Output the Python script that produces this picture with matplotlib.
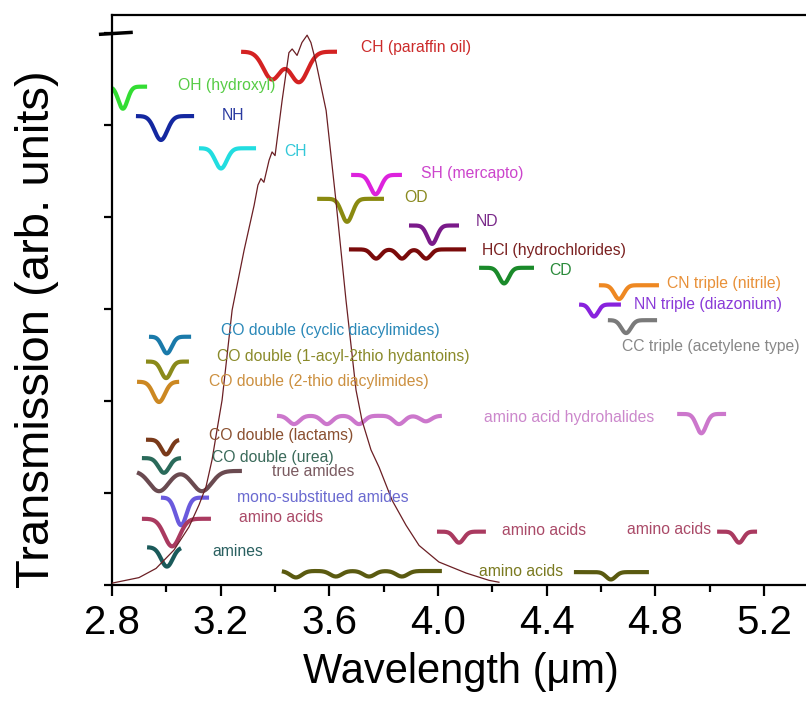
import numpy as np
import matplotlib
matplotlib.use("Agg")
import matplotlib.pyplot as plt

plt.rcParams['font.family'] = ['Liberation Sans', 'DejaVu Sans']

# ---- transmission trace ----
spec_wl = [2.800, 2.899, 2.962, 3.028, 3.083, 3.120, 3.146, 3.168, 3.186, 3.205,
           3.242, 3.286, 3.323, 3.337, 3.348, 3.359, 3.378, 3.389, 3.400, 3.426,
           3.451, 3.463, 3.481, 3.499, 3.518, 3.532, 3.551, 3.588, 3.624, 3.661,
           3.698, 3.720, 3.753, 3.783, 3.831, 3.882, 3.930, 4.003, 4.103, 4.188, 4.224]
spec_tr = [0.02, 0.08, 0.18, 0.38, 0.63, 0.87, 1.07, 1.36, 1.68, 2.01,
           2.99, 3.64, 4.13, 4.35, 4.42, 4.38, 4.62, 4.71, 4.67, 5.27,
           5.79, 5.83, 5.76, 5.90, 5.98, 5.90, 5.68, 5.16, 4.18, 3.10,
           2.12, 1.79, 1.47, 1.28, 0.92, 0.65, 0.43, 0.25, 0.13, 0.05, 0.03]

# ---- absorption band glyphs ----
glyph_color = ['#d42222', '#33dd33', '#1428a0', '#22dde0', '#dd22dd', '#8a8a10',
               '#7a1a8a', '#7a0a0a', '#1a8a2a', '#ee8822', '#8822dd', '#7a7a7a',
               '#1a7aaa', '#8a8a1a', '#cc8822', '#7a3a1a', '#2a6a5a', '#6a4a50',
               '#6a5add', '#aa3a60', '#1a5a5a', '#cc77cc', '#cc77cc', '#aa3a60',
               '#aa3a60', '#5a5a10', '#5a5a10']
glyph_x0 = [3.275, 2.800, 2.888, 3.120, 3.680, 3.555, 3.893, 3.672, 4.151, 4.592,
            4.519, 4.625, 2.936, 2.925, 2.892, 2.925, 2.910, 2.892, 2.980, 2.910,
            2.929, 3.407, 4.880, 3.996, 5.027, 3.425, 4.500]
glyph_x1 = [3.628, 2.929, 3.102, 3.330, 3.867, 3.801, 4.077, 4.103, 4.353, 4.813,
            4.673, 4.806, 3.091, 3.083, 3.047, 3.047, 3.054, 3.278, 3.157, 3.164,
            3.054, 4.014, 5.060, 4.176, 5.174, 4.014, 4.776]
glyph_base = [5.80, 5.42, 5.10, 4.75, 4.46, 4.20, 3.91, 3.65, 3.45, 3.26,
              3.05, 2.88, 2.70, 2.43, 2.21, 1.58, 1.38, 1.24, 0.95, 0.72,
              0.41, 1.84, 1.86, 0.58, 0.58, 0.152, 0.14]
glyph_dip_pos = [[3.389, 3.488], [2.840], [2.980], [3.201], [3.770], [3.665],
                 [3.978], [3.772, 3.867, 3.956], [4.243], [4.666], [4.574], [4.692],
                 [3.002], [2.999], [2.973], [2.999], [2.991], [2.973, 3.131],
                 [3.054], [3.021], [3.002],
                 [3.470, 3.591, 3.709, 3.856, 3.955], [4.969], [4.077], [5.108],
                 [3.477, 3.624, 3.746, 3.867], [4.636]]
glyph_dip_depth = [[0.30, 0.33], [0.24], [0.26], [0.22], [0.21], [0.25],
                   [0.20], [0.10, 0.10, 0.10], [0.17], [0.15], [0.13], [0.14],
                   [0.18], [0.18], [0.22], [0.16], [0.16], [0.22, 0.22],
                   [0.30], [0.30], [0.21],
                   [0.09, 0.09, 0.09, 0.09, 0.06], [0.21], [0.12], [0.12],
                   [0.07, 0.06, 0.06, 0.06], [0.08]]
glyph_width = [0.045, 0.024, 0.033, 0.030, 0.028, 0.028, 0.025, 0.025, 0.025, 0.025,
               0.022, 0.025, 0.025, 0.025, 0.030, 0.025, 0.028, 0.050, 0.028, 0.040,
               0.030, 0.028, 0.025, 0.025, 0.022, 0.030, 0.025]

# ---- labels ----
label_text = ['CH (paraffin oil)', 'OH (hydroxyl)', 'NH', 'CH', 'SH (mercapto)', 'OD',
              'ND', 'HCl (hydrochlorides)', 'CD', 'CN triple (nitrile)',
              'NN triple (diazonium)', 'CC triple (acetylene type)',
              'CO double (cyclic diacylimides)', 'CO double (1-acyl-2thio hydantoins)',
              'CO double (2-thio diacylimides)', 'CO double (lactams)', 'CO double (urea)',
              'true amides', 'mono-substitued amides', 'amino acids', 'amines',
              'amino acid hydrohalides', 'amino acids', 'amino acids', 'amino acids']
label_x = [3.716, 3.043, 3.205, 3.433, 3.937, 3.875, 4.140, 4.162, 4.408, 4.843,
           4.721, 4.677, 3.201, 3.186, 3.157, 3.157, 3.168, 3.389, 3.260, 3.267,
           3.168, 4.169, 4.235, 4.695, 4.151]
label_y = [5.85, 5.43, 5.11, 4.71, 4.48, 4.21, 3.95, 3.64, 3.42, 3.28,
           3.05, 2.59, 2.77, 2.48, 2.21, 1.63, 1.39, 1.23, 0.95, 0.73,
           0.36, 1.82, 0.59, 0.60, 0.15]
label_color = ['#cc2a2a', '#55cc44', '#2a3aa0', '#33c8d8', '#cc44cc', '#8a8a20',
               '#7a2a8a', '#7a2020', '#2a8a3a', '#e89038', '#8a3ad8', '#888888',
               '#2a88b8', '#8a8a2a', '#cc9040', '#8a5030', '#3a6a5a', '#7a5a60',
               '#6a6ad0', '#aa4a68', '#2a6060', '#cc88cc', '#aa4a68', '#aa4a68',
               '#7a7a20']

fig = plt.figure(figsize=(8.06, 7.02), dpi=100)
ax = fig.add_axes([0.139, 0.1667, 0.87, 0.812])
xmax = 2.8 + 0.87 * 806 / 271.7
ax.set_xlim(2.8, xmax)
ax.set_ylim(0, 6.2)

for col, x0, x1, base, pos, dep, w in zip(glyph_color, glyph_x0, glyph_x1, glyph_base,
                                           glyph_dip_pos, glyph_dip_depth, glyph_width):
    xs = np.linspace(x0, x1, 200)
    ys = np.full_like(xs, base)
    for c, d in zip(pos, dep):
        ys -= d * np.exp(-((xs - c) / w) ** 2)
    ax.plot(xs, ys, color=col, lw=3.0, solid_capstyle='butt', zorder=2)

ax.plot(spec_wl, spec_tr, color='#6b1f24', lw=0.9, zorder=3)

for t, x, y, c in zip(label_text, label_x, label_y, label_color):
    ax.text(x, y, t, color=c, fontsize=11.3, ha='left', va='center', zorder=4)

# short black mark at top-left
ax.plot([2.758, 2.870], [5.99, 6.01], color='black', lw=2.5, clip_on=False, zorder=5)

ax.spines['right'].set_visible(False)
for s in ['left', 'bottom', 'top']:
    ax.spines[s].set_linewidth(1.6)

ax.set_xticks(np.arange(2.8, 5.21, 0.4))
ax.set_xticklabels(['2.8', '3.2', '3.6', '4.0', '4.4', '4.8', '5.2'])
ax.set_xticks(np.arange(3.0, 5.31, 0.4), minor=True)
ax.set_yticks(np.arange(0, 6.01, 1))
ax.set_yticklabels([])
ax.tick_params(axis='x', which='major', direction='out', length=8, width=1.6,
               labelsize=29, pad=6)
ax.tick_params(axis='x', which='minor', direction='out', length=5, width=1.6)
ax.tick_params(axis='y', which='major', direction='out', length=6, width=1.6)

fig.text(461 / 806, 1 - 672 / 702, 'Wavelength (\u03bcm)', fontsize=30,
         ha='center', va='center')
fig.text(37 / 806, 1 - 329 / 702, 'Transmission (arb. units)', fontsize=34,
         rotation=90, ha='center', va='center')

fig.savefig('out.png', dpi=100)
